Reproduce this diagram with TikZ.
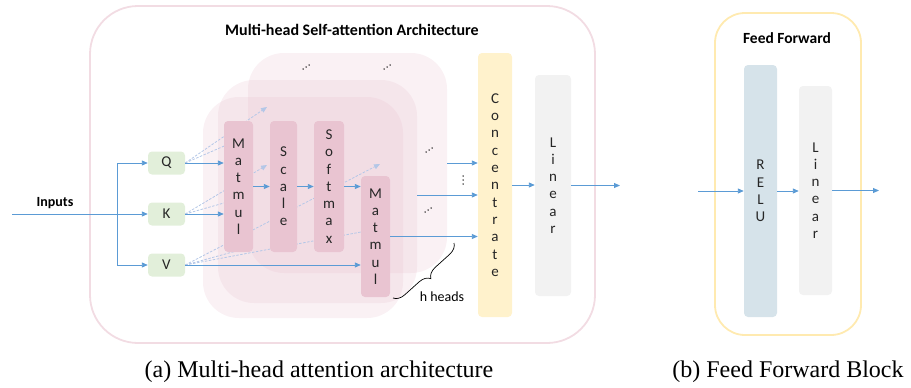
\documentclass[tikz,border=0pt]{standalone}
\usepackage{fontspec}
\setmainfont{Liberation Serif}
\newfontfamily\carl{Carlito}
\usetikzlibrary{arrows.meta,decorations.pathreplacing,calc}
\definecolor{outpink}{HTML}{F2DCE3}
\definecolor{laypink}{HTML}{E6BCCB}
\definecolor{boxpink}{HTML}{E9C4D1}
\definecolor{qkvgreen}{HTML}{E2EFDA}
\definecolor{concyel}{HTML}{FFF2CC}
\definecolor{lingray}{HTML}{F2F2F2}
\definecolor{relublue}{HTML}{D6E3EA}
\definecolor{ffborder}{HTML}{FFEAB0}
\definecolor{ablue}{HTML}{5B9BD5}
\definecolor{lblue}{HTML}{B4C7E7}
\tikzset{
  arr/.style={draw=ablue, line width=0.9pt, -{Triangle[length=6pt,width=5pt]}},
  dsh/.style={draw=lblue, line width=0.8pt, dash pattern=on 2.5pt off 1.5pt},
  dsharr/.style={dsh, -{Triangle[length=6pt,width=5pt]}},
  layer/.style={rounded corners=36pt, inner sep=0pt, draw=none, fill=laypink, fill opacity=0.21},
  vbox/.style={rounded corners=4pt, inner sep=0pt, align=center, text=black!85,
     font=\carl\fontsize{15}{17.3}\selectfont},
  qkv/.style={vbox, fill=qkvgreen, minimum width=37pt, minimum height=23pt},
}
\newcommand\mydiagdots[1]{%
  \fill[black] ($(#1)+(-3,2)$) circle (0.75pt);
  \fill[black] (#1) circle (0.75pt);
  \fill[black] ($(#1)+(3,-2)$) circle (0.75pt);}
\begin{document}
\begin{tikzpicture}[x=1pt,y=-1pt]
\useasboundingbox (0,0) rectangle (911,388);
% ---------- (a) ----------
\node[draw=outpink, line width=1.8pt, rounded corners=48pt, minimum width=505pt,
      minimum height=337pt, inner sep=0pt] (outA) at (342.5,174.5) {};
\node[font=\carl\bfseries\fontsize{16}{18}\selectfont] (titleA) at (352,30)
      {Multi-head Self-attention Architecture};
% head layers
\node[layer, minimum width=199pt, minimum height=220pt] (h3) at (347.5,163) {};
\node[layer, minimum width=199pt, minimum height=223pt] (h2) at (317.5,191.5) {};
\node[layer, minimum width=200pt, minimum height=221pt] (h1) at (303,207.5) {};
% dots
\coordinate (d1) at (306,67);
\coordinate (d2) at (387,67);
\coordinate (d3) at (429,150);
\coordinate (d4) at (428,210);
\mydiagdots{d1}
\mydiagdots{d2}
\mydiagdots{d3}
\mydiagdots{d4}
\coordinate (d5) at (463,180);
\fill[black] ($(d5)+(0,-4)$) circle (0.75pt);
\fill[black] (d5) circle (0.75pt);
\fill[black] ($(d5)+(0,4)$) circle (0.75pt);
% QKV
\node[qkv] (Q) at (166.5,163) {Q};
\node[qkv] (K) at (166.5,214) {K};
\node[qkv] (V) at (166.5,265) {V};
% dashed lines to other heads
\coordinate (dq1) at (267,107);
\coordinate (dq2) at (238,140);
\coordinate (dk1) at (267,165);
\coordinate (dk2) at (238,199);
\coordinate (dv1) at (380,164);
\coordinate (dv2) at (361,232);
\coordinate (dv3) at (240,250);
\draw[dsharr] (Q.east) -- (dq1);
\draw[dsh] (Q.east) -- (dq2);
\draw[dsharr] (K.east) -- (dk1);
\draw[dsh] (K.east) -- (dk2);
\draw[dsharr] (V.east) -- (dv1);
\draw[dsh] (V.east) -- (dv2);
\draw[dsh] (V.east) -- (dv3);
% head boxes
\node[vbox, fill=boxpink, minimum width=29pt, minimum height=131pt] (mm1) at (238.5,186.5) {M\\a\\t\\m\\u\\l};
\node[vbox, fill=boxpink, minimum width=27pt, minimum height=131pt] (sc) at (283.5,186.5) {S\\c\\a\\l\\e};
\node[vbox, fill=boxpink, minimum width=30pt, minimum height=131pt] (sm) at (329,186.5) {S\\o\\f\\t\\m\\a\\x};
\node[vbox, fill=boxpink, minimum width=29pt, minimum height=121pt] (mm2) at (375.5,236.5) {M\\a\\t\\m\\u\\l};
\node[vbox, fill=concyel, minimum width=34pt, minimum height=264pt] (conc) at (495,185) {C\\o\\n\\c\\e\\n\\t\\r\\a\\t\\e};
\node[vbox, fill=lingray, minimum width=36pt, minimum height=221pt] (linA) at (553,185.5) {L\\i\\n\\e\\a\\r};
% inputs
\node[font=\carl\bfseries\fontsize{14}{16}\selectfont] (inlbl) at (55,203) {Inputs};
\coordinate (inStart) at (12,214);
\coordinate (split) at (117,214);
\draw[arr] (inStart) -- (K.west);
\draw[arr] (split) |- (Q.west);
\draw[arr] (split) |- (V.west);
% solid arrows
\draw[arr] (Q.east) -- (Q.east -| mm1.west);
\draw[arr] (K.east) -- (K.east -| mm1.west);
\draw[arr] (V.east) -- (V.east -| mm2.west);
\draw[arr] (mm1.east) -- (mm1.east -| sc.west);
\draw[arr] (sc.east) -- (sc.east -| sm.west);
\draw[arr] (sm.east) -- (sm.east -| mm2.west);
\draw[arr] (mm2.east) -- (mm2.east -| conc.west);
\draw[arr] (h3.east) -- (h3.east -| conc.west);
\coordinate (h2out) at ($(h2.east)+(0,3.5)$);
\draw[arr] (h2out) -- (h2out -| conc.west);
\draw[arr] (conc.east) -- (conc.east -| linA.west);
\coordinate (aout) at (620,185.5);
\draw[arr] (linA.east) -- (aout);
% brace
\coordinate (brA) at (454,243);
\coordinate (brB) at (393,298);
\draw[black, line width=0.7pt, decorate, decoration={brace, amplitude=11pt}] (brA) -- (brB);
\node[font=\carl\fontsize{14}{16}\selectfont] (hh) at (442,297) {h heads};
% caption a
\node[font=\fontsize{24}{28}\selectfont] (capA) at (319,372) {(a) Multi-head attention architecture};
% ---------- (b) ----------
\node[draw=ffborder, line width=1.8pt, rounded corners=30pt, minimum width=146pt,
      minimum height=322pt, inner sep=0pt] (outB) at (788,174) {};
\node[font=\carl\bfseries\fontsize{15.5}{18}\selectfont] (titleB) at (787,38) {Feed Forward};
\node[vbox, fill=relublue, minimum width=33pt, minimum height=252pt] (relu) at (760.5,191) {R\\E\\L\\U};
\node[vbox, fill=lingray, minimum width=33pt, minimum height=209pt] (linB) at (815.5,190.5) {L\\i\\n\\e\\a\\r};
\coordinate (ffin) at (698,191);
\draw[arr] (ffin) -- (relu.west);
\draw[arr] (relu.east) -- (relu.east -| linB.west);
\coordinate (ffout) at (879,190.5);
\draw[arr] (linB.east) -- (ffout);
\node[font=\fontsize{24}{28}\selectfont] (capB) at (788,372) {(b) Feed Forward Block};
\end{tikzpicture}
\end{document}
